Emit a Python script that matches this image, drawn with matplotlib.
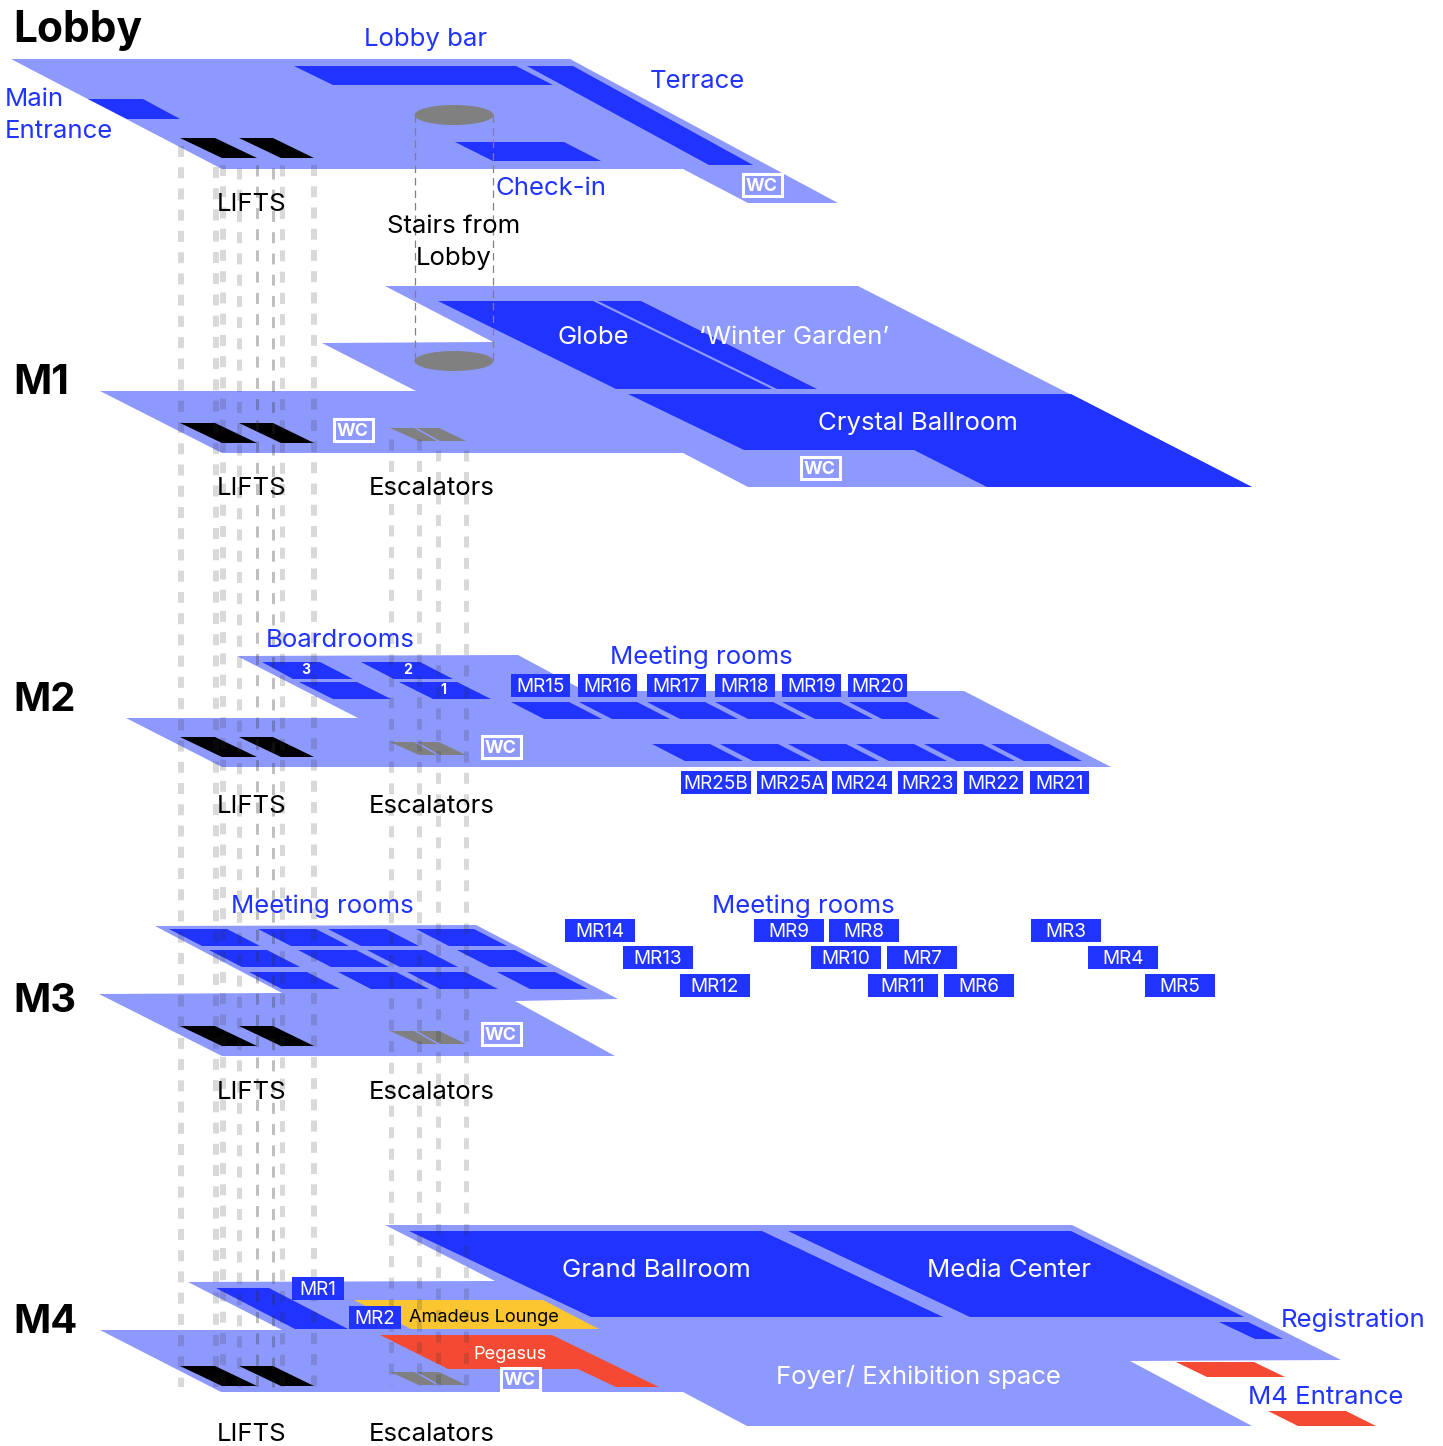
import matplotlib
matplotlib.use('Agg')
import matplotlib.pyplot as plt
from matplotlib.patches import Polygon, Rectangle, Ellipse

plt.rcParams['font.family'] = ['Inter', 'DejaVu Sans']

FLOOR = '#8E99FD'
ROOM = '#2033FF'
RED = '#F44A33'
YELLOW = '#FBC62F'
GREY = '#808080'

# floor outlines in pixels
floor_lobby = [(11, 59), (570, 59), (838, 203), (748, 203), (683, 169), (222, 169)]
floor_m1 = [(385, 286), (858, 286), (1252, 487), (748, 487), (683, 453), (222, 453),
            (100, 391), (416, 391), (322, 343), (493, 342)]
floor_m2 = [(237, 656), (518, 655), (585, 691), (964, 691), (1111, 767), (222, 767),
            (126, 718), (358, 718)]
floor_m3 = [(155, 926), (476, 925), (618, 999), (515, 1001), (615, 1056), (222, 1056),
            (99, 994), (282, 993)]
floor_m4 = [(385, 1225), (1072, 1225), (1341, 1360), (1130, 1361), (1252, 1426), (747, 1426),
            (683, 1392), (221, 1392), (100, 1330), (282, 1330), (188, 1282), (495, 1281)]
floors = [floor_lobby, floor_m1, floor_m2, floor_m3, floor_m4]

blue_rooms = [
    [(294, 66), (516, 66), (553, 85), (333, 85)],  # lobby bar
    [(527, 66), (573, 66), (753, 165), (709, 165)],  # terrace
    [(88, 99), (143, 99), (180, 119), (127, 119)],  # main entrance
    [(455, 142), (564, 142), (601, 161), (493, 161)],  # check-in
    [(438, 301), (593, 301), (772, 389), (616, 389)],  # globe
    [(598, 301), (641, 301), (817, 389), (777, 389)],  # winter garden
    [(628, 394), (1071, 394), (1252, 487), (987, 487), (914, 450), (744, 450)],  # crystal
    [(262, 662), (320, 662), (353, 679), (293, 679)],  # boardrooms
    [(299, 682), (357, 682), (391, 699), (333, 699)],
    [(361, 662), (420, 662), (453, 679), (394, 679)],
    [(399, 682), (457, 682), (491, 699), (433, 699)],
    [(409, 1231), (762, 1231), (943, 1317), (591, 1317)],  # grand ballroom
    [(788, 1231), (1071, 1231), (1244, 1317), (970, 1317)],  # media center
    [(1219, 1322), (1248, 1322), (1283, 1339), (1255, 1339)],  # registration
    [(216, 1288), (269, 1288), (348, 1329), (295, 1329)],  # MR1 / MR2
]
red_rooms = [
    [(380, 1335), (552, 1335), (659, 1387), (616, 1387), (578, 1369), (448, 1369)],
    [(1176, 1362), (1254, 1362), (1285, 1377), (1207, 1377)],
    [(1268, 1411), (1346, 1411), (1376, 1426), (1298, 1426)],
]
yellow_rooms = [[(354, 1300), (543, 1300), (599, 1329), (411, 1329)]]

# meeting room rows: top y and left x of each room
mr_rows = [
    (702, [511, 579, 647, 715, 782, 849]),
    (744, [652, 720, 788, 856, 924, 991]),
    (929, [169, 258, 328, 416]),
    (950, [209, 298, 367, 457]),
    (972, [249, 338, 407, 497]),
]

# lifts and escalators per level
lift_tops = [138, 423, 737, 1026, 1366]
escalator_tops = [428, 742, 1031, 1372]
lift_shapes = [[(180, 0), (215, 0), (257, 20), (222, 20)],
               [(239, 0), (273, 0), (314, 20), (281, 20)]]
escalator_shapes = [[(390, 0), (414, 0), (437, 13), (419, 13)],
                    [(417, 0), (439, 0), (466, 13), (440, 13)]]

wc_boxes = [(741, 172), (332, 417), (799, 455), (480, 734), (480, 1021), (499, 1366)]

# dashed shafts: x, width px, first y
lift_shafts = [(181, 6, 146), (216, 6, 167), (223, 6, 165), (239, 5, 168),
               (257, 3, 165), (273, 3, 168), (282, 5, 165), (314, 6, 165)]
escalator_shafts = [(391, 5, 439), (419, 5, 439), (438, 5, 450), (466, 5, 450)]

stair_ellipses = [115, 361]

# label boxes: text, left, right, top
mr_labels = [
    ('MR15', 511, 570, 674), ('MR16', 578, 637, 674), ('MR17', 647, 706, 674),
    ('MR18', 715, 775, 674), ('MR19', 782, 841, 674), ('MR20', 848, 907, 674),
    ('MR25B', 681, 751, 771), ('MR25A', 757, 827, 771), ('MR24', 832, 892, 771),
    ('MR23', 898, 957, 771), ('MR22', 964, 1023, 771), ('MR21', 1030, 1089, 771),
    ('MR14', 565, 635, 919), ('MR13', 623, 693, 946), ('MR12', 680, 750, 974),
    ('MR9', 754, 824, 919), ('MR8', 829, 899, 919), ('MR10', 811, 881, 946),
    ('MR7', 887, 957, 946), ('MR11', 868, 938, 974), ('MR6', 944, 1014, 974),
    ('MR3', 1031, 1101, 919), ('MR4', 1088, 1158, 946), ('MR5', 1145, 1215, 974),
    ('MR1', 292, 344, 1277), ('MR2', 349, 401, 1306),
]

headings = [('Lobby', 27, 42.5), ('M1', 379, 41), ('M2', 696, 40), ('M3', 997, 40), ('M4', 1318, 40)]
black_labels = [('LIFTS', 252, 202), ('LIFTS', 252, 486), ('LIFTS', 252, 804), ('LIFTS', 252, 1090),
                ('LIFTS', 252, 1432), ('Escalators', 432, 486), ('Escalators', 432, 804),
                ('Escalators', 432, 1090), ('Escalators', 432, 1432),
                ('Stairs from', 454, 224), ('Lobby', 454, 256)]
blue_labels = [('Lobby bar', 426, 37), ('Terrace', 697, 79), ('Check-in', 551, 186),
               ('Boardrooms', 340, 638), ('Meeting rooms', 701, 655), ('Meeting rooms', 322, 904),
               ('Meeting rooms', 803, 904), ('Registration', 1353, 1318), ('M4 Entrance', 1326, 1395)]
white_labels = [('Globe', 593, 335), ('\u2018Winter Garden\u2019', 794, 335), ('Crystal Ballroom', 918, 421),
                ('Grand Ballroom', 656, 1268), ('Media Center', 1009, 1268),
                ('Foyer/ Exhibition space', 918, 1375)]
board_numbers = [('3', 306, 669), ('2', 408, 669), ('1', 443, 689)]


def label(x, y, s, px, color, ha='center', weight='normal'):
    # y is the middle of the capitals
    ax.text(x, y + 0.364 * px, s, fontsize=px * 0.72, color=color, ha=ha, va='baseline',
            fontweight=weight, zorder=8)


def poly(pts, color, z=2):
    ax.add_patch(Polygon(pts, closed=True, facecolor=color, edgecolor='none', zorder=z))


def shaft(x, w, y0, y1, period):
    # dark and see-through, so it barely shows on the dark rooms
    lw = w * 0.72
    alpha = 0.3 if w <= 3 else 0.18
    ax.plot([x, x], [y0, y1], color='#303030', lw=lw, alpha=alpha, zorder=5,
            dashes=(11 * 0.72 / lw, (period - 11) * 0.72 / lw), dash_capstyle='butt')


fig = plt.figure(figsize=(14.43, 14.46), dpi=100)
ax = fig.add_axes([0, 0, 1, 1])
ax.set_xlim(0, 1443)
ax.set_ylim(1446, 0)
ax.axis('off')

for f in floors:
    poly(f, FLOOR, 1)
for r in blue_rooms:
    poly(r, ROOM)
for r in red_rooms:
    poly(r, RED)
for r in yellow_rooms:
    poly(r, YELLOW)

for top, xs in mr_rows:
    for x in xs:
        poly([(x, top), (x + 58, top), (x + 91, top + 17), (x + 33, top + 17)], ROOM)

for top in lift_tops:
    for shape in lift_shapes:
        poly([(x, top + dy) for x, dy in shape], 'black', 3)
for top in escalator_tops:
    for shape in escalator_shapes:
        poly([(x, top + dy) for x, dy in shape], GREY, 3)

for x, w, y0 in lift_shafts:
    shaft(x, w, y0, 1387, 21.235)
for x, w, y0 in escalator_shafts:
    shaft(x, w, y0, 1385, 21.49)

for x in [415, 493]:
    ax.plot([x, x], stair_ellipses, color=GREY, lw=0.9, zorder=3, dashes=(6, 4))
for y in stair_ellipses:
    ax.add_patch(Ellipse((454, y), 79, 20, facecolor=GREY, edgecolor='none', zorder=4))

for x, y in wc_boxes:
    ax.add_patch(Rectangle((x + 1.5, y + 1.5), 39, 22, facecolor='none', edgecolor='white', lw=2.2, zorder=6))
    label(x + 21, y + 12.5, 'WC', 18, 'white', weight='bold')

for s, left, right, top in mr_labels:
    ax.add_patch(Rectangle((left, top), right - left, 23, facecolor=ROOM, edgecolor='none', zorder=6))
    label((left + right) / 2, top + 11.5, s, 19, 'white')

for s, y, px in headings:
    label(13, y, s, px, 'black', ha='left', weight='bold')
for s, x, y in black_labels:
    label(x, y, s, 25.8, 'black')
for s, x, y in blue_labels:
    label(x, y, s, 25.8, ROOM)
for s, x, y in white_labels:
    label(x, y, s, 25.8, 'white')
for s, x, y in board_numbers:
    label(x, y, s, 14, 'white', weight='bold')

label(5, 97, 'Main', 25.8, ROOM, ha='left')
label(5, 129, 'Entrance', 25.8, ROOM, ha='left')
label(484, 1315, 'Amadeus Lounge', 18.2, 'black')
label(510, 1352, 'Pegasus', 18.2, 'white')

fig.savefig('out.png', dpi=100)
